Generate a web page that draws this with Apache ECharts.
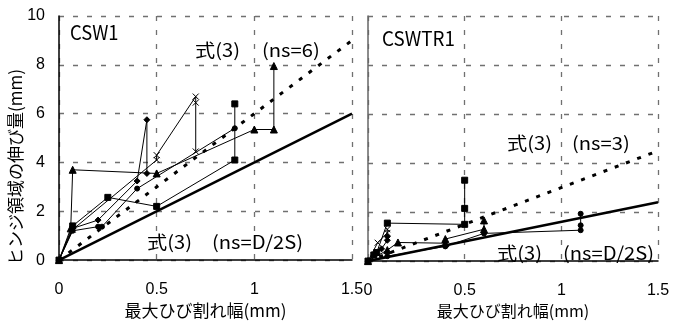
<!DOCTYPE html>
<html>
<head>
<meta charset="utf-8">
<script src="https://cdn.jsdelivr.net/npm/echarts@6/dist/echarts.min.js"></script>
<style>
html, body { margin: 0; padding: 0; background: #fff; }
#chart { width: 682px; height: 324px; }
</style>
</head>
<body>
<div id="chart"></div>
<script>
var xTicks = [0, 0.5, 1, 1.5];
var yTicks = [0, 2, 4, 6, 8, 10];

// CSW1 : [max crack width, hinge elongation]
var csw1Tri   = [[0,0],[0.06,1.3],[0.07,3.7],[0.5,3.55],[1.0,5.35],[1.1,5.35],[1.1,7.95]];
var csw1Cross = [[0,0],[0.07,1.25],[0.5,4.1],[0.5,4.3],[0.7,6.7],[0.7,6.45],[0.7,4.45]];
var csw1Rect  = [[0,0],[0.07,1.4],[0.25,2.57],[0.5,2.2],[0.9,4.1],[0.9,6.4]];
var csw1Dot   = [[0,0],[0.07,1.3],[0.2,1.64],[0.4,3.24],[0.45,5.75],[0.45,3.55]];
var csw1Circ  = [[0,0],[0.07,1.2],[0.2,1.37],[0.22,1.37],[0.4,2.93],[0.9,5.4]];

// CSWTR1
var tr1Rect  = [[0,0],[0.03,0.25],[0.045,0.35],[0.1,1.55],[0.5,1.5],[0.5,2.15],[0.5,3.3]];
var tr1Cross = [[0,0],[0.05,0.75],[0.1,1.15],[0.1,1.3]];
var tr1Dia   = [[0,0],[0.07,0.5],[0.1,0.85],[0.1,1.0]];
var tr1Tri   = [[0,0],[0.1,0.45],[0.155,0.76],[0.4,0.73],[0.4,0.9],[0.6,1.3],[0.6,1.66]];
var tr1Circ  = [[0,0],[0.1,0.2],[0.4,0.6],[0.6,1.13],[1.1,1.26],[1.1,1.46],[1.1,1.93]];

// eq.(3) lines
var eqX = [0, 1.5];
var csw1Ns6 = [0, 9];
var csw1NsD = [0, 6];
var tr1Ns3 = [0, 4.5];
var tr1NsD = [0, 2.4];

function eqData(ys) { return eqX.map(function (x, i) { return [x, ys[i]]; }); }

var jp = '"Noto Sans CJK JP", sans-serif';
var crossSym = 'path://M0,0L10,10M10,0L0,10';

function dataSeries(data, idx, sym, size) {
    return {
        type: 'line', data: data, xAxisIndex: idx, yAxisIndex: idx,
        symbol: sym, symbolSize: size || 6, showSymbol: true,
        lineStyle: { color: '#000', width: 1 },
        itemStyle: { color: '#000', borderColor: '#000', borderWidth: 1 },
        animation: false, z: 3
    };
}
function eqSeries(ys, idx, dotted) {
    return {
        type: 'line', data: eqData(ys), xAxisIndex: idx, yAxisIndex: idx,
        symbol: 'none',
        lineStyle: dotted ? { color: '#000', width: 3, type: [4, 8] } : { color: '#000', width: 2.5 },
        animation: false, z: 4
    };
}
function xAx(idx) {
    return {
        type: 'value', gridIndex: idx, min: xTicks[0], max: xTicks[xTicks.length - 1], interval: 0.5,
        name: '最大ひび割れ幅(mm)', nameLocation: 'middle', nameGap: 41,
        nameTextStyle: { fontFamily: jp, fontSize: idx ? 16 : 17, color: '#000' },
        axisLine: { lineStyle: { color: '#000', width: 1.5 } },
        axisTick: { show: false },
        axisLabel: { fontFamily: 'Liberation Sans', fontSize: 16, color: '#000', margin: 21 },
        splitLine: { lineStyle: { color: '#707070', width: 1.3, type: [5, 9] } }
    };
}
function yAx(idx) {
    return {
        type: 'value', gridIndex: idx, min: yTicks[0], max: yTicks[yTicks.length - 1], interval: 2,
        axisLine: { lineStyle: { color: idx ? '#666' : '#000', width: 1.5 } },
        axisTick: { show: false },
        axisLabel: { show: !idx, fontFamily: 'Liberation Sans', fontSize: 16, color: '#000', margin: 14 },
        splitLine: { lineStyle: { color: '#707070', width: 1.3, type: [5, 9] } }
    };
}
function txt(s, x, y, size, sx) {
    return { type: 'text', x: x, y: y, scaleX: sx || 1.12,
             style: { text: s, fontFamily: jp, fontSize: size || 18, fill: '#000', verticalAlign: 'middle' }, z: 10 };
}

var chart = echarts.init(document.getElementById('chart'));
chart.setOption({
    backgroundColor: '#fff',
    grid: [
        { left: 59, top: 16, width: 293, height: 250 },
        { left: 368, top: 16, width: 290, height: 250 }
    ],
    xAxis: [xAx(0), xAx(1)],
    yAxis: [yAx(0), yAx(1)],
    graphic: [
        { type: 'text', x: 16, y: 167, rotation: Math.PI / 2,
          style: { text: 'ヒンジ領域の伸び量(mm)', fontFamily: jp, fontSize: 17, fill: '#000', align: 'center', verticalAlign: 'middle' } },
        txt('CSW1', 70, 32, 20, 0.92),
        txt('式(3)', 195, 50), txt('(ns=6)', 262, 50),
        txt('式(3)', 147, 242), txt('(ns=D/2S)', 212, 242),
        txt('CSWTR1', 382, 38, 20, 0.94),
        txt('式(3)', 507, 143), txt('(ns=3)', 572, 143),
        txt('式(3)', 497, 253), txt('(ns=D/2S)', 563, 253)
    ],
    series: [
        eqSeries(csw1NsD, 0, false),
        eqSeries(csw1Ns6, 0, true),
        dataSeries(csw1Tri, 0, 'triangle', 7),
        dataSeries(csw1Cross, 0, crossSym, 6),
        dataSeries(csw1Rect, 0, 'rect', 6),
        dataSeries(csw1Dot, 0, 'diamond', 6),
        dataSeries(csw1Circ, 0, 'circle', 5),
        eqSeries(tr1NsD, 1, false),
        eqSeries(tr1Ns3, 1, true),
        dataSeries(tr1Rect, 1, 'rect', 6),
        dataSeries(tr1Cross, 1, crossSym, 6),
        dataSeries(tr1Dia, 1, 'diamond', 6),
        dataSeries(tr1Tri, 1, 'triangle', 7),
        dataSeries(tr1Circ, 1, 'circle', 5)
    ]
});
</script>
</body>
</html>
